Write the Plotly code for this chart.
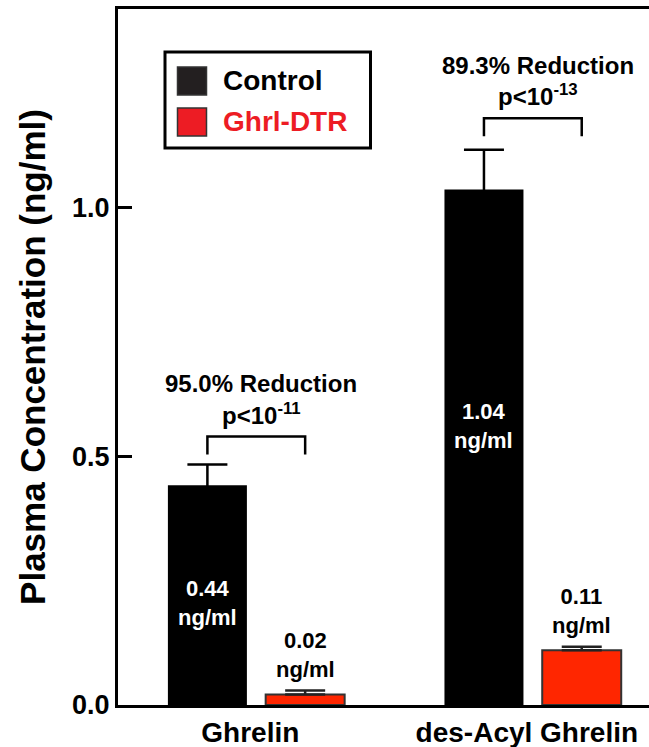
import plotly.graph_objects as go

# ---------------- data ----------------
categories = ["Ghrelin", "des-Acyl Ghrelin"]
series_names = ["Control", "Ghrl-DTR"]
control_mean = [0.442, 1.037]
control_sem = [0.042, 0.080]
dtr_mean = [0.021, 0.110]
dtr_sem = [0.008, 0.007]
reduction_text = ["95.0% Reduction", "89.3% Reduction"]
p_exponent = ["-11", "-13"]
bracket_top = [0.540, 1.180]
control_label_y = [0.205, 0.561]
y_ticks = [0.0, 0.5, 1.0]

# ---------------- style / layout ----------------
W, H = 649, 747
ML, MR, MT, MB = 118, 0, 9, 42
PLOT_W = W - ML - MR
PLOT_H = H - MT - MB
BARGAP = 0.293
GROUPGAP = 0.192
XRANGE = [-0.5, 1.42]
YRANGE = [0, 1.4]
FONT = "Liberation Sans, Arial, Helvetica, sans-serif"
BLACK = "#000000"
BAR_RED = "#FF2600"
LEG_RED = "#ED1C24"
LEG_BLACK = "#231F20"
BRACKET_DROP_PX = 18

pos = list(range(len(categories)))
slot = (1 - BARGAP) / 2
ctrl_x = [p - slot / 2 for p in pos]
dtr_x = [p + slot / 2 for p in pos]
y_per_px = (YRANGE[1] - YRANGE[0]) / PLOT_H


def px_to_paper(px, py):
    return (px - ML) / PLOT_W, (H - MB - py) / PLOT_H


fig = go.Figure()
fig.add_trace(go.Bar(
    x=pos, y=control_mean, name=series_names[0],
    marker=dict(color=BLACK, line=dict(color=BLACK, width=0)),
    error_y=dict(type="data", array=control_sem, symmetric=True,
                 color=BLACK, thickness=2.5, width=20),
    showlegend=False,
))
fig.add_trace(go.Bar(
    x=pos, y=dtr_mean, name=series_names[1],
    marker=dict(color=BAR_RED, line=dict(color="#333333", width=2)),
    error_y=dict(type="data", array=dtr_sem, arrayminus=[0] * len(pos),
                 symmetric=False, color="#222222", thickness=2.5, width=20),
    showlegend=False,
))

shapes = []
annotations = []

# significance brackets and texts
for i in pos:
    yt = bracket_top[i]
    yb = yt - BRACKET_DROP_PX * y_per_px
    shapes.append(dict(
        type="path", xref="x", yref="y",
        path=f"M {ctrl_x[i]},{yb} L {ctrl_x[i]},{yt} L {dtr_x[i]},{yt} L {dtr_x[i]},{yb}",
        line=dict(color=BLACK, width=2.5),
    ))
    annotations.append(dict(
        x=pos[i], y=yt, xref="x", yref="y", xshift=5, yshift=53,
        text=reduction_text[i], showarrow=False, xanchor="center", yanchor="middle",
        font=dict(family=FONT, size=24, color=BLACK, weight="bold"),
    ))
    annotations.append(dict(
        x=pos[i], y=yt, xref="x", yref="y", xshift=5, yshift=23,
        text=f"p&lt;10<sup>{p_exponent[i]}</sup>", showarrow=False,
        xanchor="center", yanchor="middle",
        font=dict(family=FONT, size=24, color=BLACK, weight="bold"),
    ))

# value labels
for i in pos:
    annotations.append(dict(
        x=ctrl_x[i], y=control_label_y[i], xref="x", yref="y",
        text=f"{control_mean[i]:.2f}<br>ng/ml", showarrow=False,
        xanchor="center", yanchor="middle",
        font=dict(family=FONT, size=22, color="white", weight="bold"),
    ))
    annotations.append(dict(
        x=dtr_x[i], y=dtr_mean[i] + dtr_sem[i], xref="x", yref="y", yshift=36,
        text=f"{dtr_mean[i]:.2f}<br>ng/ml", showarrow=False,
        xanchor="center", yanchor="middle",
        font=dict(family=FONT, size=22, color=BLACK, weight="bold"),
    ))

# custom legend (box, swatches, labels)
bx0, by0 = px_to_paper(165, 148)
bx1, by1 = px_to_paper(370.5, 52)
shapes.append(dict(type="rect", xref="paper", yref="paper", x0=bx0, y0=by0, x1=bx1, y1=by1,
                   line=dict(color=BLACK, width=3), fillcolor="white", layer="above"))
legend_colors = [LEG_BLACK, LEG_RED]
legend_text_colors = [BLACK, LEG_RED]
legend_rows_py = [81, 122]
for k, name in enumerate(series_names):
    cy = legend_rows_py[k]
    sx0, sy0 = px_to_paper(177.5, cy + 14)
    sx1, sy1 = px_to_paper(206.5, cy - 14)
    shapes.append(dict(type="rect", xref="paper", yref="paper", x0=sx0, y0=sy0, x1=sx1, y1=sy1,
                       line=dict(color="#333333", width=1.5), fillcolor=legend_colors[k], layer="above"))
    tx, ty = px_to_paper(221, cy)
    annotations.append(dict(
        x=tx, y=ty, xref="paper", yref="paper", text=name, showarrow=False,
        xanchor="left", yanchor="middle",
        font=dict(family=FONT, size=28, color=legend_text_colors[k], weight="bold"),
    ))

fig.update_layout(
    width=W, height=H,
    margin=dict(l=ML, r=MR, t=MT, b=MB, pad=0),
    paper_bgcolor="white", plot_bgcolor="white",
    barmode="group", bargap=BARGAP, bargroupgap=GROUPGAP,
    shapes=shapes, annotations=annotations,
    font=dict(family=FONT, color=BLACK),
    showlegend=False,
)
fig.update_xaxes(
    range=XRANGE, tickmode="array", tickvals=pos, ticktext=categories,
    showline=True, linewidth=3, linecolor=BLACK, mirror=True,
    ticks="", showgrid=False, zeroline=False,
    tickfont=dict(family=FONT, size=28, color=BLACK, weight="bold"),
    ticklabelshift=-6,
)
fig.update_yaxes(
    range=YRANGE, tickmode="array", tickvals=y_ticks,
    ticktext=[f"{v:.1f}" for v in y_ticks],
    showline=True, linewidth=3, linecolor=BLACK, mirror=False,
    ticks="inside", ticklen=14, tickwidth=3, tickcolor=BLACK,
    showgrid=False, zeroline=False,
    tickfont=dict(family=FONT, size=27, color=BLACK, weight="bold"),
    title=dict(text="Plasma Concentration (ng/ml)", standoff=16,
               font=dict(family=FONT, size=35, color=BLACK, weight="bold")),
)

fig.write_html(
    "out.html",
    config={"displayModeBar": False},
    post_script="document.documentElement.style.margin='0';document.body.style.margin='0';"
                "document.body.style.padding='0';document.body.style.overflow='hidden';",
)
